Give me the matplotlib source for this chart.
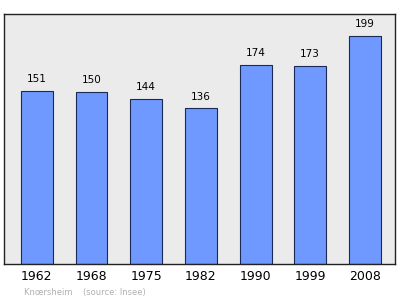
import matplotlib
matplotlib.use("Agg")
import matplotlib.pyplot as plt

years = ["1962", "1968", "1975", "1982", "1990", "1999", "2008"]
population = [151, 150, 144, 136, 174, 173, 199]

fig = plt.figure(figsize=(4.0, 2.99), dpi=100)
ax = fig.add_axes([4/400, 1 - 264/299, 391/400, 250.5/299])
ax.set_facecolor("#ebebeb")
x = list(range(len(years)))
ax.bar(x, population, width=0.585, color="#7099ff", edgecolor="#1a2a55", linewidth=0.8, zorder=2)
for xi, v in zip(x, population):
    ax.text(xi, v + 6, str(v), ha="center", va="bottom", fontsize=7.5, color="black")
ax.set_xlim(-0.6, 6.55)
ax.set_ylim(0, 218.9)
ax.set_yticks([])
ax.set_xticks(x)
ax.set_xticklabels(years, fontsize=9)
ax.tick_params(axis="x", length=0, pad=4)
for s in ax.spines.values():
    s.set_linewidth(1.0)
    s.set_color("#222222")
fig.text(24/400, 1 - 292/299, "Knœrsheim    (source: Insee)", fontsize=6, color="#b0b0b0", va="center", ha="left")
fig.savefig("out.png", dpi=100)
